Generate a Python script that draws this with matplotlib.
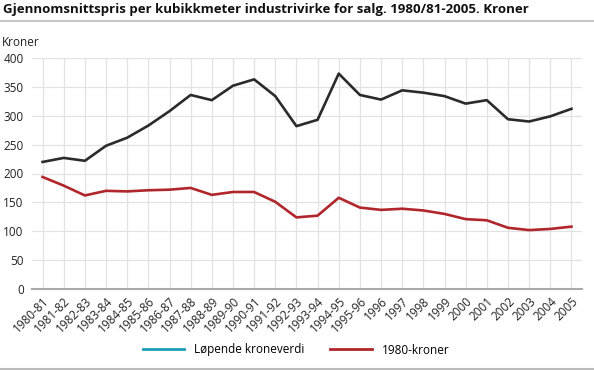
import matplotlib.pyplot as plt
from matplotlib.lines import Line2D

plt.rcParams['font.family'] = ['Open Sans', 'DejaVu Sans']

years = [
    "1980-81", "1981-82", "1982-83", "1983-84", "1984-85", "1985-86", "1986-87",
    "1987-88", "1988-89", "1989-90", "1990-91", "1991-92", "1992-93", "1993-94",
    "1994-95", "1995-96", "1996", "1997", "1998", "1999", "2000", "2001", "2002",
    "2003", "2004", "2005",
]
lopende = [220, 227, 222, 248, 262, 283, 308, 336, 327, 352, 363, 334, 282, 293,
           373, 336, 328, 344, 340, 334, 321, 327, 294, 290, 299, 312]
kroner1980 = [194, 179, 162, 170, 169, 171, 172, 175, 163, 168, 168, 151, 124, 127,
              158, 141, 137, 139, 136, 130, 121, 119, 106, 102, 104, 108]
series_labels = ["Løpende kroneverdi", "1980-kroner"]
yticks = [0, 50, 100, 150, 200, 250, 300, 350, 400]

title = "Gjennomsnittspris per kubikkmeter industrivirke for salg. 1980/81-2005. Kroner"

fig = plt.figure(figsize=(5.94, 3.70), dpi=100)
ax = fig.add_axes([32 / 594, 1 - 289 / 370, 550 / 594, 231 / 370])

x = range(len(years))
ax.plot(x, lopende, color='#2b2b2b', lw=1.9, solid_joinstyle='round')
ax.plot(x, kroner1980, color='#b0262a', lw=1.9, solid_joinstyle='round')

ax.set_xlim(-0.5, len(years) - 0.5)
ax.set_ylim(0, 400)
ax.set_yticks(yticks)
ax.set_xticks(list(x))
ax.set_xticklabels(years, rotation=45, ha='right', rotation_mode='anchor')
ax.tick_params(axis='both', length=0, labelsize=8.5, colors='#222222')
ax.tick_params(axis='x', pad=4)
ax.tick_params(axis='y', pad=6)

ax.grid(True, color='#e2e2e2', lw=0.9)
ax.set_axisbelow(True)
for side in ['top', 'right', 'left']:
    ax.spines[side].set_visible(False)
ax.spines['bottom'].set_color('#aaaaaa')
ax.spines['bottom'].set_linewidth(1.5)

fig.text(3 / 594, 1 - 10 / 370, title, fontsize=9.5, fontweight='bold',
         va='center', ha='left', color='#111111')
fig.text(2 / 594, 1 - 42 / 370, "Kroner", fontsize=8.5, va='center', ha='left',
         color='#222222')

# gray rules under title and at bottom
fig.add_artist(Line2D([0, 1], [1 - 20.5 / 370, 1 - 20.5 / 370], color='#bbbbbb', lw=1.2))
fig.add_artist(Line2D([0, 1], [1 - 368.5 / 370, 1 - 368.5 / 370], color='#bbbbbb', lw=1.5))

handles = [Line2D([], [], color='#1c9db6', lw=2), Line2D([], [], color='#b0262a', lw=2)]
fig.legend(handles, series_labels, loc='center', bbox_to_anchor=(296 / 594, 1 - 350 / 370),
           ncol=2, frameon=False, fontsize=8.5, handlelength=3.5, handletextpad=0.85,
           columnspacing=2.2)

fig.savefig('out.png', dpi=100)
